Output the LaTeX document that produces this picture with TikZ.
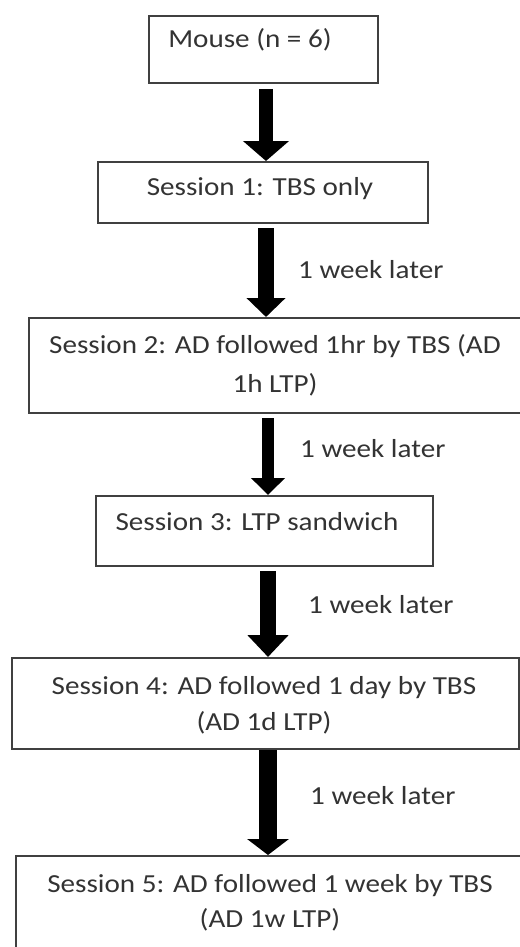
\documentclass[tikz,border=0pt]{standalone}
\usepackage{fontspec}
\setmainfont{Carlito}[FakeStretch=1.12]
\usetikzlibrary{arrows.meta}
\definecolor{boxline}{HTML}{404040}
\definecolor{txt}{HTML}{333333}
\begin{document}
\begin{tikzpicture}[x=1pt,y=-1pt,
  box/.style={draw=boxline, line width=2pt, inner sep=0pt, anchor=north west},
  lbl/.style={text=txt, font=\fontsize{26}{38}\selectfont, inner sep=0pt, anchor=base},
  wk/.style={lbl, anchor=base west},
  blk/.style n args={4}{draw=black, line width=#1, shorten <=#4,
    -{Triangle[width=#2, length=#3]}}]
\useasboundingbox (0,0) rectangle (519,947);

% boxes
\node[box, minimum width=229pt, minimum height=67pt]  (b1) at (148,15)  {};
\node[box, minimum width=330pt, minimum height=61pt]  (b2) at (97,161)  {};
\node[box, minimum width=500pt, minimum height=95pt]  (b3) at (28,317)  {};
\node[box, minimum width=337pt, minimum height=70pt]  (b4) at (95,495)  {};
\node[box, minimum width=507pt, minimum height=91pt]  (b5) at (11,657)  {};
\node[box, minimum width=520pt, minimum height=110pt] (b6) at (15,855)  {};

% box texts
\node[lbl] (t1)  at (250,48)  {Mouse (n = 6)};
\node[lbl] (t2)  at (260,195) {Session 1: TBS only};
\node[lbl] (t3a) at (275,353) {Session 2: AD followed 1hr by TBS (AD};
\node[lbl] (t3b) at (275,392) {1h LTP)};
\node[lbl] (t4)  at (257,530) {Session 3: LTP sandwich};
\node[lbl] (t5a) at (264,694) {Session 4: AD followed 1 day by TBS};
\node[lbl] (t5b) at (264,730) {(AD 1d LTP)};
\node[lbl] (t6a) at (270,892) {Session 5: AD followed 1 week by TBS};
\node[lbl] (t6b) at (270,927) {(AD 1w LTP)};

% interval labels
\node[wk] (w2) at (298,278) {1 week later};
\node[wk] (w3) at (300,457) {1 week later};
\node[wk] (w4) at (308,613) {1 week later};
\node[wk] (w5) at (310,804) {1 week later};

% arrow axes
\coordinate (ax1) at (266,0);
\coordinate (ax2) at (266,0);
\coordinate (ax3) at (268,0);
\coordinate (ax4) at (268,0);
\coordinate (ax5) at (268,0);

% block arrows
\draw[blk={14pt}{45pt}{20pt}{5pt}] (b1.south -| ax1) -- (b2.north -| ax1);
\draw[blk={16pt}{38pt}{19pt}{4pt}] (b2.south -| ax2) -- (b3.north -| ax2);
\draw[blk={12pt}{33pt}{17pt}{4pt}] (b3.south -| ax3) -- (b4.north -| ax3);
\draw[blk={16pt}{40pt}{22pt}{4pt}] (b4.south -| ax4) -- (b5.north -| ax4);
\draw[blk={18pt}{41pt}{16pt}{0pt}] (b5.south -| ax5) -- (b6.north -| ax5);
\end{tikzpicture}
\end{document}
